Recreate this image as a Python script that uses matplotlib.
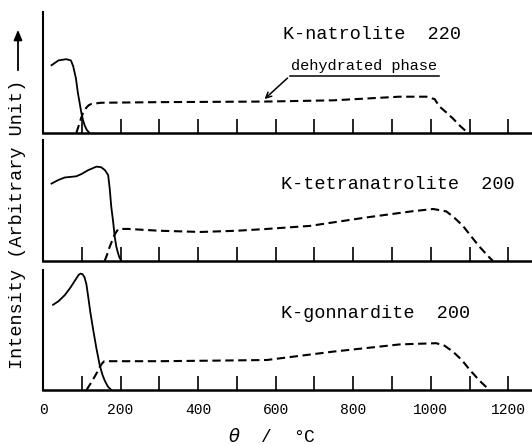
import matplotlib.pyplot as plt

plt.rcParams['font.family'] = ['Liberation Mono', 'DejaVu Sans']

# temperature (deg C) / relative intensity (fraction of panel height)
nat_solid_t = [22, 40, 60, 72, 78, 85, 90, 95, 99, 103, 107, 113, 120]
nat_solid_i = [0.56, 0.60, 0.61, 0.60, 0.55, 0.45, 0.33, 0.24, 0.165, 0.11, 0.066, 0.025, 0.0]
nat_dash_t = [86, 92, 99, 105, 112, 118, 125, 150, 300, 577, 749, 919, 989, 1010, 1022, 1040, 1057, 1075, 1096]
nat_dash_i = [0.0, 0.06, 0.13, 0.18, 0.21, 0.23, 0.24, 0.25, 0.255, 0.26, 0.27, 0.30, 0.30, 0.28, 0.22, 0.17, 0.12, 0.06, 0.0]

tet_solid_t = [22, 40, 56, 86, 100, 116, 138, 150, 160, 168, 172, 176, 181, 185, 189, 193, 197, 202]
tet_solid_i = [0.64, 0.67, 0.69, 0.70, 0.72, 0.75, 0.78, 0.775, 0.75, 0.71, 0.60, 0.45, 0.32, 0.2, 0.12, 0.07, 0.03, 0.0]
tet_dash_t = [159, 165, 170, 176, 185, 193, 200, 219, 300, 407, 500, 577, 688, 834, 950, 1006, 1040, 1060, 1083, 1105, 1125, 1145, 1160]
tet_dash_i = [0.0, 0.05, 0.10, 0.15, 0.22, 0.26, 0.265, 0.265, 0.25, 0.24, 0.25, 0.265, 0.29, 0.36, 0.41, 0.43, 0.41, 0.36, 0.29, 0.20, 0.12, 0.05, 0.0]

gon_solid_t = [26, 40, 56, 70, 82, 92, 97, 102, 107, 112, 116, 122, 129, 137, 146, 153, 159, 167, 176]
gon_solid_i = [0.71, 0.74, 0.79, 0.85, 0.91, 0.96, 0.97, 0.965, 0.94, 0.88, 0.79, 0.65, 0.51, 0.36, 0.21, 0.13, 0.08, 0.03, 0.0]
gon_dash_t = [112, 122, 133, 140, 146, 152, 158, 180, 300, 450, 577, 749, 920, 1014, 1035, 1057, 1080, 1100, 1125, 1151]
gon_dash_i = [0.0, 0.05, 0.11, 0.15, 0.19, 0.22, 0.24, 0.24, 0.24, 0.245, 0.25, 0.32, 0.38, 0.39, 0.37, 0.32, 0.25, 0.17, 0.08, 0.0]

names = ['K-natrolite  220', 'K-tetranatrolite  200', 'K-gonnardite  200']
name_pos = [(620, 0.81), (615, 0.63), (615, 0.64)]
tick_vals = list(range(0, 1300, 100))
tick_labels = [str(v) if v % 200 == 0 else '' for v in tick_vals]

panels = [
    (nat_solid_t, nat_solid_i, nat_dash_t, nat_dash_i),
    (tet_solid_t, tet_solid_i, tet_dash_t, tet_dash_i),
    (gon_solid_t, gon_solid_i, gon_dash_t, gon_dash_i),
]
boxes = [
    [43 / 532, 1 - 133 / 446, 489 / 532, 121 / 446],
    [43 / 532, 1 - 261 / 446, 489 / 532, 121 / 446],
    [43 / 532, 1 - 390 / 446, 489 / 532, 120 / 446],
]

fig = plt.figure(figsize=(5.32, 4.46), dpi=100)

for k, (st, si, dt, di) in enumerate(panels):
    ax = fig.add_axes(boxes[k])
    ax.plot(st, si, color='black', lw=1.3)
    ax.plot(dt, di, color='black', lw=1.5, dashes=(4, 2.2))
    ax.set_xlim(4, 1261)
    ax.set_ylim(0, 1)
    for s in ['top', 'right']:
        ax.spines[s].set_visible(False)
    ax.spines['left'].set_linewidth(1.5)
    ax.spines['bottom'].set_linewidth(1.8)
    ax.set_yticks([])
    ax.set_xticks(tick_vals)
    ax.tick_params(axis='x', direction='in', length=10, width=1.2, pad=9,
                   labelsize=10.5)
    if k == 2:
        ax.set_xticklabels(tick_labels)
    else:
        ax.set_xticklabels([])
    ax.text(name_pos[k][0], name_pos[k][1], names[k], fontsize=13.3,
            ha='left', va='center')
    if k == 0:
        ax.plot([636, 1022], [0.47, 0.47], color='black', lw=1.1)
        ax.annotate('', xy=(566, 0.265), xytext=(636, 0.47),
                    arrowprops=dict(arrowstyle='->', color='black', lw=1.1))
        ax.text(640, 0.55, 'dehydrated phase', fontsize=11, ha='left',
                va='center')

fig.text(18 / 532, 1 - 224 / 446, 'Intensity (Arbitrary Unit)', rotation=90,
         fontsize=13.3, ha='center', va='center')
fig.add_artist(plt.matplotlib.patches.FancyArrowPatch(
    (18 / 532, 1 - 73 / 446), (18 / 532, 1 - 27 / 446),
    transform=fig.transFigure, arrowstyle='-|>,head_length=6,head_width=2.5',
    color='black', lw=1.3))
fig.text(272 / 532, 1 - 437 / 446, r'$\theta$  /  °C', fontsize=13,
         ha='center', va='center')

fig.savefig('out.png', dpi=100)
